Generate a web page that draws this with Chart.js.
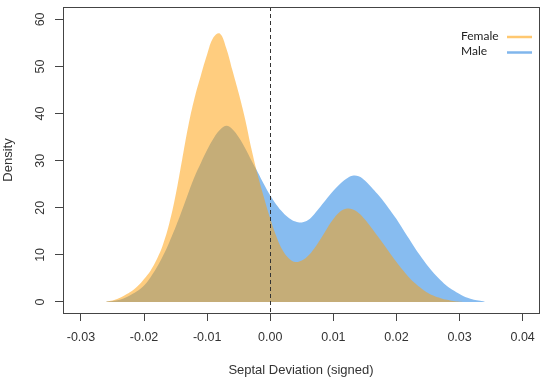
<!DOCTYPE html>
<html>
<head>
<meta charset="utf-8">
<script src="https://cdn.jsdelivr.net/npm/chart.js@4.4.1/dist/chart.umd.min.js"></script>
<style>
  html, body { margin: 0; padding: 0; background: #fff; }
  #wrap { position: relative; width: 550px; height: 381px; }
</style>
</head>
<body>
<div id="wrap"><canvas id="chart"></canvas></div>
<script>
const xValues = [
  -0.026, -0.025, -0.024, -0.023, -0.022, -0.021, -0.020, -0.019, -0.018, -0.017,
  -0.016, -0.015, -0.014, -0.013, -0.012, -0.011, -0.010, -0.009, -0.008, -0.007,
  -0.006, -0.005, -0.004, -0.003, -0.002, -0.001, 0.000, 0.001, 0.002, 0.003,
  0.004, 0.005, 0.006, 0.007, 0.008, 0.009, 0.010, 0.011, 0.012, 0.013,
  0.014, 0.015, 0.016, 0.017, 0.018, 0.019, 0.020, 0.021, 0.022, 0.023,
  0.024, 0.025, 0.026, 0.027, 0.028, 0.029, 0.030, 0.031, 0.032, 0.033, 0.034
];
const femaleDensity = [
  0.1, 0.3, 0.8, 1.5, 2.3, 3.4, 4.9, 6.6, 9.0, 12.2,
  16.7, 22.7, 30.0, 37.3, 43.3, 48.1, 52.6, 56.2, 57.0, 54.0,
  49.2, 44.3, 38.9, 32.6, 27.0, 22.2, 17.7, 13.8, 10.9, 9.2,
  8.5, 8.8, 9.8, 11.4, 13.4, 15.6, 17.6, 19.1, 19.8, 19.7,
  18.9, 17.5, 15.8, 14.0, 12.2, 10.3, 8.5, 6.8, 5.2, 3.9,
  2.8, 1.9, 1.25, 0.8, 0.45, 0.2, 0.05, 0, 0, 0, 0
];
const maleDensity = [
  0.05, 0.2, 0.4, 0.9, 1.6, 2.4, 3.5, 5.2, 7.3, 9.8,
  12.7, 15.9, 19.4, 23.1, 26.6, 29.5, 32.3, 34.7, 36.5, 37.4,
  36.7, 35.0, 32.7, 30.1, 27.6, 25.0, 22.6, 20.6, 19.0, 17.8,
  17.1, 16.9, 17.4, 18.7, 20.3, 22.0, 23.6, 25.0, 26.1, 26.8,
  26.7, 25.8, 24.4, 22.9, 21.3, 19.5, 17.6, 15.5, 13.4, 11.3,
  9.4, 7.6, 6.0, 4.6, 3.4, 2.5, 1.7, 1.0, 0.6, 0.3, 0.05
];
const seriesNames = ['Female', 'Male'];
const xTicks = [-0.03, -0.02, -0.01, 0, 0.01, 0.02, 0.03, 0.04];
const yTicks = [0, 10, 20, 30, 40, 50, 60];
const xTitle = 'Septal Deviation (signed)';
const yTitle = 'Density';
const refLine = 0;

const axisFont = { family: '"Liberation Sans", Arial, sans-serif', size: 12.5 };
const titleFont = { family: '"Liberation Sans", Arial, sans-serif', size: 13 };
const legendLineColors = ['rgb(255,200,112)', 'rgb(128,182,236)'];

const toPoints = ys => xValues.map((x, i) => ({ x: x, y: ys[i] }));

// box around the plot + dashed line at zero
const framePlugin = {
  id: 'frame',
  afterDatasetsDraw(chart) {
    const { ctx, chartArea: a, scales: { x } } = chart;
    const zx = Math.round(x.getPixelForValue(refLine)) + 0.5;
    ctx.save();
    ctx.strokeStyle = '#333';
    ctx.lineWidth = 1;
    ctx.setLineDash([4, 3]);
    ctx.beginPath();
    ctx.moveTo(zx, a.top);
    ctx.lineTo(zx, a.bottom);
    ctx.stroke();
    ctx.setLineDash([]);
    ctx.strokeStyle = '#444';
    ctx.strokeRect(Math.round(a.left) + 0.5, Math.round(a.top) + 0.5,
      Math.round(a.right - a.left), Math.round(a.bottom - a.top));
    ctx.restore();
  }
};

// legend: label first, line after it (like the original)
const legendPlugin = {
  id: 'sideLegend',
  afterDraw(chart) {
    const ctx = chart.ctx;
    ctx.save();
    ctx.font = '12px Lato, "Open Sans", sans-serif';
    ctx.fillStyle = '#222';
    ctx.textAlign = 'left';
    ctx.textBaseline = 'alphabetic';
    seriesNames.forEach((name, i) => {
      const y = 39.5 + i * 15.5;
      ctx.fillText(name, 461, y);
      ctx.strokeStyle = legendLineColors[i];
      ctx.lineWidth = 2.5;
      ctx.beginPath();
      ctx.moveTo(507, y - 2.5);
      ctx.lineTo(532, y - 2.5);
      ctx.stroke();
    });
    ctx.restore();
  }
};

new Chart(document.getElementById('chart'), {
  type: 'line',
  data: {
    datasets: [
      {
        label: seriesNames[0],
        data: toPoints(femaleDensity),
        backgroundColor: 'rgba(255,160,10,0.52)',
        borderColor: 'rgba(0,0,0,0)',
        borderWidth: 0,
        pointRadius: 0,
        fill: 'origin',
        tension: 0.4
      },
      {
        label: seriesNames[1],
        data: toPoints(maleDensity),
        backgroundColor: 'rgb(135,188,240)',
        borderColor: 'rgba(0,0,0,0)',
        borderWidth: 0,
        pointRadius: 0,
        fill: 'origin',
        tension: 0.4
      }
    ]
  },
  options: {
    responsive: true,
    maintainAspectRatio: false,
    animation: false,
    events: [],
    layout: { autoPadding: false, padding: { top: 7, right: 11, left: 0, bottom: 0 } },
    plugins: {
      legend: { display: false },
      title: { display: false },
      tooltip: { enabled: false }
    },
    scales: {
      x: {
        type: 'linear',
        min: -0.03285,
        max: 0.04259,
        afterBuildTicks: s => { s.ticks = xTicks.map(v => ({ value: v })); },
        afterFit: s => { s.height = 68; s.paddingLeft = 0; s.paddingRight = 0; },
        grid: { drawOnChartArea: false, drawTicks: true, tickLength: 8, tickColor: '#444' },
        border: { display: false },
        ticks: {
          autoSkip: false,
          maxRotation: 0,
          padding: 9,
          color: '#333',
          font: axisFont,
          callback: v => Number(v).toFixed(2)
        },
        title: { display: true, text: xTitle, color: '#333', font: titleFont, padding: { top: 0, bottom: 3 } }
      },
      y: {
        min: -2.34,
        max: 62.63,
        afterBuildTicks: s => { s.ticks = yTicks.map(v => ({ value: v })); },
        afterFit: s => { s.width = 63; s.paddingTop = 0; s.paddingBottom = 0; },
        grid: { drawOnChartArea: false, drawTicks: true, tickLength: 8, tickColor: '#444' },
        border: { display: false },
        ticks: {
          autoSkip: false,
          minRotation: 90,
          maxRotation: 90,
          crossAlign: 'center',
          padding: 8,
          color: '#333',
          font: axisFont,
          callback: v => String(v)
        },
        title: { display: true, text: yTitle, color: '#333', font: titleFont, padding: { top: 1, bottom: 0 } }
      }
    }
  },
  plugins: [framePlugin, legendPlugin]
});
</script>
</body>
</html>
